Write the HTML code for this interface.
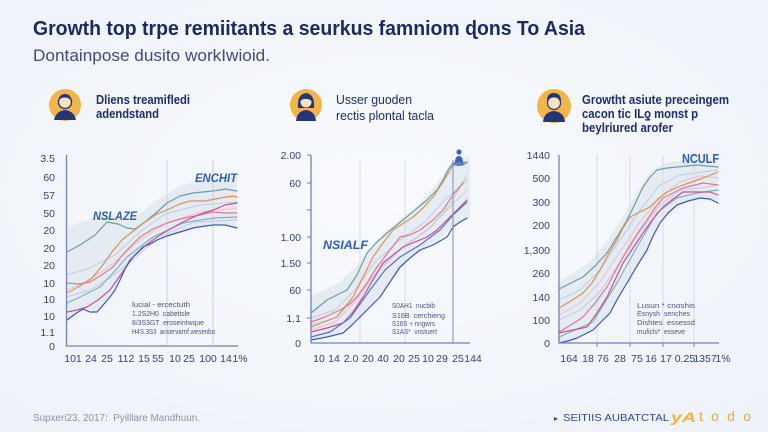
<!DOCTYPE html>
<html><head><meta charset="utf-8">
<style>
html,body{margin:0;padding:0;width:768px;height:432px;overflow:hidden;background:#f3f6fb;}
svg{display:block;}
text{font-family:"Liberation Sans",sans-serif;}
</style></head>
<body>
<svg width="768" height="432" viewBox="0 0 768 432" xmlns="http://www.w3.org/2000/svg">
<defs>
<radialGradient id="bg" cx="50%" cy="45%" r="75%">
<stop offset="0" stop-color="#f8fafd"/><stop offset="1" stop-color="#eef2f9"/>
</radialGradient>
</defs>
<rect width="768" height="432" fill="url(#bg)"/>

<!-- Title -->
<text x="33" y="35" font-size="20" font-weight="bold" fill="#1b2a66" textLength="552" lengthAdjust="spacingAndGlyphs">Growth top trpe remiitants a seurkus famniom ɖons To Asia</text>
<text x="33" y="61" font-size="17" fill="#3e4c80" textLength="237" lengthAdjust="spacingAndGlyphs">Dontainpose dusito workIwioid.</text>

<!-- Icon 1 -->
<g>
<circle cx="65" cy="105" r="16" fill="#f2b54a"/>
<path d="M54,120 Q56,111 65,110 Q74,111 76,120 Z" fill="#24357a"/>
<circle cx="65" cy="102" r="6.5" fill="#fbe2bf" stroke="#24357a" stroke-width="1.4"/>
<path d="M58.5,101 Q59,94 65,94 Q71,94 71.5,101 Q68,97 65,97.5 Q61,97 58.5,101Z" fill="#24357a"/>
</g>
<text x="96" y="104" font-size="12.5" font-weight="bold" fill="#1e2d6b" textLength="94" lengthAdjust="spacingAndGlyphs">Dliens treamifledi</text>
<text x="96" y="118" font-size="12.5" font-weight="bold" fill="#1e2d6b" textLength="63" lengthAdjust="spacingAndGlyphs">adendstand</text>

<!-- Icon 2 -->
<g>
<circle cx="306" cy="105" r="16" fill="#f2b54a"/>
<path d="M296,121 Q297,111 306,110 Q315,111 316,121 Z" fill="#24357a"/>
<path d="M298,108 Q297,94 306,93 Q315,94 314,108 Z" fill="#24357a"/>
<circle cx="306" cy="102" r="5.5" fill="#fbe2bf"/>
<path d="M300.5,101 Q301,96 306,96 Q311,96 311.5,101 Q308,98.5 306,99 Q303,98.5 300.5,101Z" fill="#24357a"/>
</g>
<text x="336" y="104" font-size="12.5" fill="#1e2d6b" textLength="76" lengthAdjust="spacingAndGlyphs">Usser guoden</text>
<text x="336" y="120" font-size="12.5" fill="#1e2d6b" textLength="98" lengthAdjust="spacingAndGlyphs">rectis plontal tacla</text>

<!-- Icon 3 -->
<g>
<circle cx="554" cy="106" r="17" fill="#f2b54a"/>
<path d="M543,122 Q544,112 554,111 Q564,112 565,122 Z" fill="#24357a"/>
<circle cx="554" cy="103" r="6.5" fill="#fbe2bf" stroke="#24357a" stroke-width="1.2"/>
<path d="M547,101 Q547,93 554,93 Q561,93 561,101 Q558,97 554,97.5 Q550,97 547,101Z" fill="#24357a"/>
</g>
<text x="582" y="104" font-size="12.5" font-weight="bold" fill="#1e2d6b" textLength="147" lengthAdjust="spacingAndGlyphs">Growtht asiute preceingem</text>
<text x="582" y="118" font-size="12.5" font-weight="bold" fill="#1e2d6b" textLength="116" lengthAdjust="spacingAndGlyphs">cacon tic ILƍ monst p</text>
<text x="582" y="132" font-size="12.5" font-weight="bold" fill="#1e2d6b" textLength="91" lengthAdjust="spacingAndGlyphs">beylriured arofer</text>

<!-- ============ CHART 1 ============ -->
<g>
<polygon points="67,228 80,222 95,218 110,214 127,222 140,214 160,198 180,186 200,180 237,176 237,228 225,225 213,225 193,228 167,236 143,247 130,260 120,280 110,297 97,312 83,309 67,320" fill="#dfe7ef" opacity="0.75"/>
<g stroke="#ccd3e6" stroke-width="1">
<line x1="167" y1="160" x2="167" y2="346"/>
<line x1="213" y1="160" x2="213" y2="346"/>
</g>
<g fill="none" stroke-width="1.2" stroke-linejoin="round" stroke-linecap="round">
<polyline stroke="#c9c3e3" opacity="0.8" points="67,297 90,290 110,278 130,262 150,245 170,232 195,222 237,220"/>
<polyline stroke="#efbccb" opacity="0.8" points="67,290 90,280 115,262 140,240 165,224 200,212 237,208"/>
<polyline stroke="#b9cde0" opacity="0.8" points="67,275 90,268 115,255 140,232 165,214 200,205 237,202"/>
<polyline stroke="#6f9ea1" points="67,252 80,245 95,235 107,222 118,224 127,228 135,229 145,222 157,212 167,203 180,196 193,193 213,191 225,189 237,191"/>
<polyline stroke="#7fb4b8" points="67,303 80,297 90,292 100,287 113,273 127,257 140,247 153,237 168,230 183,223 200,220 215,218 237,217"/>
<polyline stroke="#dc9257" points="67,293 80,286 92,278 102,266 112,252 122,240 132,232 145,222 157,214 167,210 180,204 190,201 205,201 220,198 233,196 237,197"/>
<polyline stroke="#e07a8a" points="67,283 78,284 90,282 100,276 113,267 125,252 140,237 153,229 167,223 180,219 195,216 213,212 225,213 237,213"/>
<polyline stroke="#c8509a" points="67,312 77,310 87,307 98,300 110,290 122,273 133,257 145,246 157,237 170,229 183,222 198,215 213,210 225,205 237,203"/>
<polyline stroke="#3f56bd" points="67,320 75,314 83,309 90,312 97,312 104,304 110,297 115,290 120,280 125,269 130,260 137,253 143,247 150,244 157,240 167,236 180,232 193,228 205,226 213,225 225,225 237,228"/>
</g>
<g stroke="#7481bd" stroke-width="1.3">
<line x1="66.5" y1="155" x2="66.5" y2="346"/>
<line x1="66" y1="346" x2="238" y2="346"/>
</g>
<g font-size="10.5" fill="#34437a" text-anchor="end">
<text x="55" y="162">3.5</text><text x="55" y="181">60</text><text x="55" y="199">57</text>
<text x="55" y="217">50</text><text x="55" y="234">20</text><text x="55" y="252">20</text>
<text x="55" y="269">20</text><text x="55" y="287">10</text><text x="55" y="303">10</text>
<text x="55" y="320">10</text><text x="55" y="336">1.1</text><text x="55" y="350">0</text>
</g>
<g font-size="10.5" fill="#34437a" text-anchor="middle">
<text x="73" y="362">101</text><text x="91" y="362">24</text><text x="107" y="362">25</text>
<text x="126" y="362">112</text><text x="144" y="362">15</text><text x="158" y="362">55</text>
<text x="175" y="362">10</text><text x="189" y="362">25</text><text x="208" y="362">100</text>
<text x="226" y="362">14</text><text x="240" y="362">1%</text>
</g>
<text x="93" y="220" font-size="12" font-weight="bold" font-style="italic" fill="#2e5fb5" textLength="44" lengthAdjust="spacingAndGlyphs">NSLAZE</text>
<text x="195" y="182" font-size="12" font-weight="bold" font-style="italic" fill="#2e5fb5" textLength="42" lengthAdjust="spacingAndGlyphs">ENCHIT</text>
<g font-size="7" fill="#4a5688">
<text x="132" y="307" textLength="58" lengthAdjust="spacingAndGlyphs">lucial - ercectuth</text>
<text x="132" y="316" textLength="58" lengthAdjust="spacingAndGlyphs">1.2S2H0 &#160;cabetisle</text>
<text x="132" y="325" textLength="72" lengthAdjust="spacingAndGlyphs">8/3S3GT &#160;eroseintwque</text>
<text x="132" y="334" textLength="83" lengthAdjust="spacingAndGlyphs">H4S.3S3 &#160;anservarnf wesenbo</text>
</g>
</g>

<!-- ============ CHART 2 ============ -->
<g>
<polygon points="311,296 325,290 340,282 355,268 370,248 385,232 400,220 415,208 430,192 445,172 453,160 470,156 470,218 453,227 433,245 410,258 390,282 370,307 352,325 330,337 311,340" fill="#dfe7ef" opacity="0.75"/>
<g stroke="#d6dbeb" stroke-width="1">
<line x1="360" y1="160" x2="360" y2="343"/>
<line x1="405" y1="160" x2="405" y2="343"/>
</g>
<g fill="none" stroke-width="1.2" stroke-linejoin="round" stroke-linecap="round">
<polyline stroke="#c9c3e3" opacity="0.8" points="311,318 335,310 355,290 375,262 400,240 425,222 445,200 467,180"/>
<polyline stroke="#efbccb" opacity="0.8" points="311,330 335,322 355,302 378,272 400,250 425,232 445,212 467,190"/>
<polyline stroke="#b9cde0" opacity="0.8" points="311,325 335,318 358,295 380,268 405,245 430,228 450,205 467,175"/>
<polyline stroke="#6f9ea1" points="311,313 327,300 347,290 357,275 367,253 377,242 387,233 403,220 415,210 427,200 437,190 443,180 448,170 453,163 467,162"/>
<polyline stroke="#dc9257" points="311,327 337,317 353,297 363,277 373,257 383,243 393,230 413,217 423,208 433,197 443,182 453,165 467,163"/>
<polyline stroke="#e07a8a" points="311,322 325,317 340,310 350,304 357,297 367,283 377,267 390,250 400,237 410,235 420,230 433,220 443,210 453,195 463,183"/>
<polyline stroke="#c8509a" points="311,332 327,328 343,323 353,312 363,297 373,280 383,263 393,255 403,247 415,242 427,237 437,230 447,220 457,210 467,200"/>
<polyline stroke="#5a74c8" points="311,337 330,332 350,318 370,290 385,270 400,257 420,245 440,230 453,215 467,202"/>
<polyline stroke="#3f56bd" points="311,340 327,337 343,333 352,325 360,317 370,307 380,297 390,282 400,267 410,258 420,250 433,245 447,237 453,227 460,222 467,218"/>
</g>
<line x1="453" y1="160" x2="453" y2="343" stroke="#8a94c4" stroke-width="1.1"/>
<g fill="#3d62b8">
<circle cx="459" cy="152" r="2.6"/>
<path d="M455,163 Q455,156 459,156 Q463,156 463,163 Z"/>
<ellipse cx="459" cy="164" rx="6" ry="2" fill="#5b7fcf"/>
</g>
<g stroke="#7481bd" stroke-width="1.3">
<line x1="311" y1="155" x2="311" y2="343"/>
<line x1="311" y1="343" x2="470" y2="343"/>
</g>
<g stroke="#7481bd" stroke-width="1">
<line x1="307" y1="155" x2="311" y2="155"/><line x1="307" y1="183" x2="311" y2="183"/>
<line x1="307" y1="210" x2="311" y2="210"/><line x1="307" y1="237" x2="311" y2="237"/>
<line x1="307" y1="263" x2="311" y2="263"/><line x1="307" y1="290" x2="311" y2="290"/>
<line x1="307" y1="318" x2="311" y2="318"/>
</g>
<g font-size="10.5" fill="#34437a" text-anchor="end">
<text x="301" y="159">2.00</text><text x="301" y="187">60</text><text x="301" y="241">1.00</text>
<text x="301" y="267">1.50</text><text x="301" y="294">60</text><text x="301" y="322">1.1</text>
<text x="301" y="347">0</text>
</g>
<g font-size="10.5" fill="#34437a" text-anchor="middle">
<text x="319" y="362">10</text><text x="334" y="362">14</text><text x="351" y="362">2.0</text>
<text x="368" y="362">20</text><text x="383" y="362">40</text><text x="399" y="362">20</text>
<text x="414" y="362">25</text><text x="428" y="362">10</text><text x="442" y="362">29</text>
<text x="458" y="362">25</text><text x="473" y="362">144</text>
</g>
<text x="323" y="249" font-size="12" font-weight="bold" font-style="italic" fill="#2e5fb5" textLength="45" lengthAdjust="spacingAndGlyphs">NSIALF</text>
<g font-size="7" fill="#4a5688">
<text x="392" y="308" textLength="43" lengthAdjust="spacingAndGlyphs">S0AH1 &#160;nucbib</text>
<text x="392" y="318" textLength="53" lengthAdjust="spacingAndGlyphs">S16B &#160;cerchieng</text>
<text x="392" y="326" textLength="43" lengthAdjust="spacingAndGlyphs">S16S + nngwrs</text>
<text x="392" y="334" textLength="45" lengthAdjust="spacingAndGlyphs">S1AS* &#160;vnstuert</text>
</g>
</g>

<!-- ============ CHART 3 ============ -->
<g>
<polygon points="559,282 575,272 590,262 605,244 620,222 635,196 650,172 665,163 685,160 718,158 718,203 700,198 677,205 660,223 647,250 627,283 610,313 593,330 577,338 559,343" fill="#dfe7ef" opacity="0.75"/>
<g stroke="#d6dbeb" stroke-width="1">
<line x1="597" y1="155" x2="597" y2="343"/>
<line x1="630" y1="155" x2="630" y2="343"/>
<line x1="663" y1="155" x2="663" y2="343"/>
<line x1="694" y1="155" x2="694" y2="343"/>
</g>
<g fill="none" stroke-width="1.2" stroke-linejoin="round" stroke-linecap="round">
<polyline stroke="#c9c3e3" opacity="0.8" points="559,320 580,310 600,292 620,262 640,232 660,205 680,190 700,188 718,185"/>
<polyline stroke="#efbccb" opacity="0.8" points="559,315 580,303 600,282 620,252 640,222 660,198 680,182 700,176 718,178"/>
<polyline stroke="#b9cde0" opacity="0.8" points="559,300 580,290 600,270 620,240 640,210 660,185 680,175 718,170"/>
<polyline stroke="#6f9ea1" points="559,289 571,283 583,277 595,266 607,253 617,237 627,220 635,204 643,187 650,177 657,170 667,168 677,167 697,165 718,167"/>
<polyline stroke="#dc9257" points="559,308 571,301 583,293 592,283 600,270 608,255 617,240 623,228 630,217 640,212 650,207 658,199 667,192 683,185 703,178 718,172"/>
<polyline stroke="#7fb4b8" points="559,337 575,330 593,322 605,302 617,283 627,265 637,247 647,230 657,213 667,205 677,198 697,193 718,190"/>
<polyline stroke="#e07a8a" points="559,332 571,325 583,317 595,303 607,287 617,268 627,250 637,234 647,220 655,208 663,198 673,193 683,188 703,183 718,185"/>
<polyline stroke="#c8509a" points="559,333 573,330 587,327 597,313 607,297 615,280 623,263 633,248 643,233 653,219 663,207 673,199 683,192 700,192 710,192 718,195"/>
<polyline stroke="#3f56bd" points="559,343 568,341 577,338 585,334 593,330 600,323 610,313 618,298 627,283 637,266 647,250 653,236 660,223 668,213 677,205 688,201 700,198 710,199 718,203"/>
</g>
<g stroke="#7481bd" stroke-width="1.3">
<line x1="559" y1="155" x2="559" y2="343"/>
<line x1="559" y1="343" x2="719" y2="343"/>
</g>
<g stroke="#7481bd" stroke-width="1">
<line x1="597" y1="343" x2="597" y2="347"/><line x1="630" y1="343" x2="630" y2="347"/>
<line x1="663" y1="343" x2="663" y2="347"/><line x1="694" y1="343" x2="694" y2="347"/>
</g>
<g font-size="10.5" fill="#34437a" text-anchor="end">
<text x="550" y="159">1440</text><text x="550" y="182">500</text><text x="550" y="206">300</text>
<text x="550" y="229">200</text><text x="550" y="254">1,300</text><text x="550" y="277">260</text>
<text x="550" y="301">140</text><text x="550" y="324">100</text><text x="550" y="347">0</text>
</g>
<g font-size="10.5" fill="#34437a" text-anchor="middle">
<text x="569" y="362">164</text><text x="588" y="362">18</text><text x="603" y="362">76</text>
<text x="620" y="362">28</text><text x="637" y="362">75</text><text x="651" y="362">16</text>
<text x="666" y="362">17</text><text x="685" y="362">0.25</text><text x="705" y="362">1357</text>
<text x="723" y="362">1%</text>
</g>
<text x="682" y="163" font-size="13" font-weight="bold" fill="#2e5fb5" textLength="37" lengthAdjust="spacingAndGlyphs">NCULF</text>
<g font-size="7" fill="#4a5688">
<text x="637" y="308" textLength="58" lengthAdjust="spacingAndGlyphs">Lusun * cnoshis</text>
<text x="637" y="316" textLength="53" lengthAdjust="spacingAndGlyphs">Esnysh &#160;senches</text>
<text x="637" y="325" textLength="58" lengthAdjust="spacingAndGlyphs">Dishtes &#160;essessd</text>
<text x="637" y="334" textLength="48" lengthAdjust="spacingAndGlyphs">muficls* &#160;esseve</text>
</g>
</g>

<!-- Footer -->
<text x="33" y="421" font-size="10" fill="#8a93ad" textLength="167" lengthAdjust="spacingAndGlyphs">Supxeri23, 2017: &#160;Pyilllare Mandhuun.</text>
<text x="554" y="421" font-size="8" fill="#2d4a9a">▸</text>
<text x="563" y="421" font-size="10" fill="#2d4a9a" textLength="106" lengthAdjust="spacingAndGlyphs">SEITIIS AUBATCTAL</text>
<text x="671" y="422" font-size="14" font-style="italic" font-weight="bold" fill="#f0b43c" font-family="Liberation Serif, serif" textLength="25" lengthAdjust="spacingAndGlyphs">yA</text>
<text x="699" y="421" font-size="14" fill="#f0a83c" textLength="52" lengthAdjust="spacing">todo</text>
</svg>
</body></html>
